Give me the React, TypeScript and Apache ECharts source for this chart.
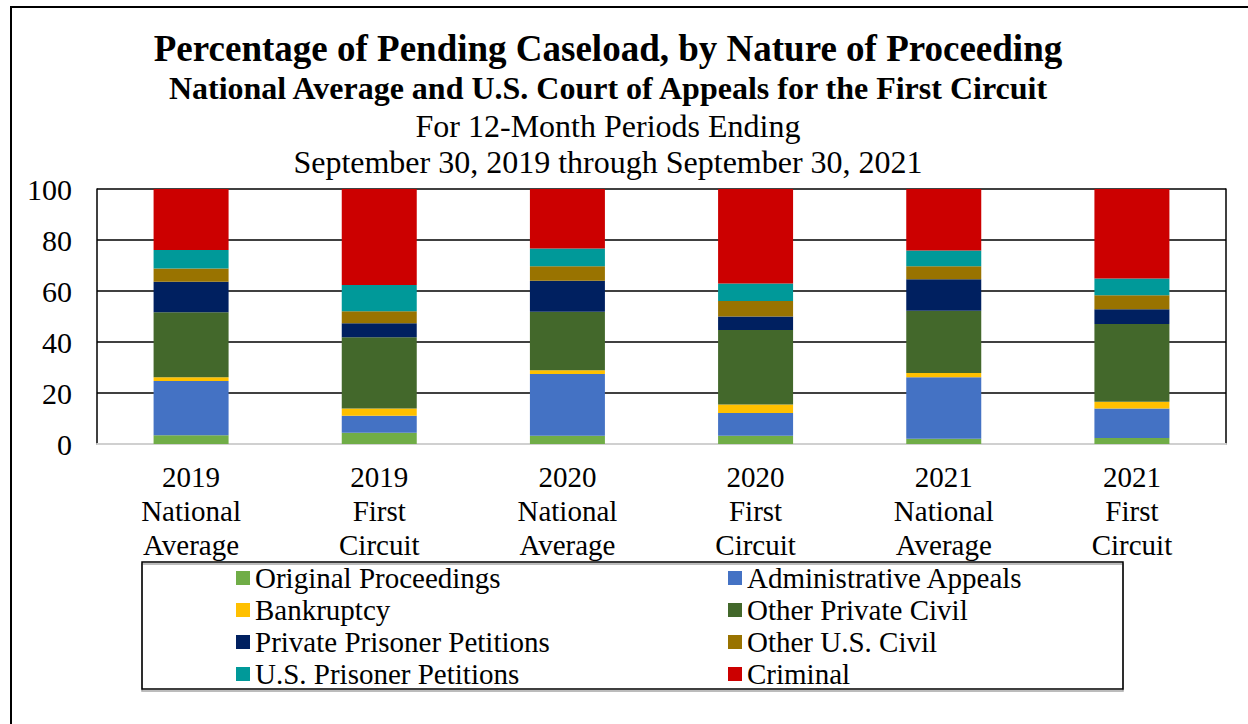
import React, { useEffect, useRef } from "react";
import * as echarts from "echarts";

const categories = [
  "2019\nNational\nAverage",
  "2019\nFirst\nCircuit",
  "2020\nNational\nAverage",
  "2020\nFirst\nCircuit",
  "2021\nNational\nAverage",
  "2021\nFirst\nCircuit",
];

const originalProceedings = [3.4, 4.4, 3.2, 3.2, 2.1, 2.4];
const administrativeAppeals = [21.3, 6.7, 24.3, 9.0, 24.1, 11.5];
const bankruptcy = [1.5, 2.8, 1.4, 3.3, 1.6, 2.7];
const otherPrivateCivil = [25.5, 28.0, 23.0, 29.2, 24.5, 30.5];
const privatePrisonerPetitions = [11.9, 5.5, 12.1, 5.3, 12.3, 5.7];
const otherUSCivil = [5.2, 4.7, 5.7, 6.1, 5.1, 5.5];
const usPrisonerPetitions = [7.3, 10.3, 7.0, 6.8, 6.2, 6.6];
const criminal = [23.9, 37.6, 23.3, 37.1, 24.1, 35.1];

const yTicks = [0, 20, 40, 60, 80, 100];

const titleLines = [
  "Percentage of Pending Caseload, by Nature of Proceeding",
  "National Average and U.S. Court of Appeals for the First Circuit",
  "For 12-Month Periods Ending",
  "September 30, 2019 through September 30, 2021",
];

const seriesDefs = [
  { name: "Original Proceedings", data: originalProceedings, color: "#70AD47" },
  { name: "Administrative Appeals", data: administrativeAppeals, color: "#4472C4" },
  { name: "Bankruptcy", data: bankruptcy, color: "#FFC000" },
  { name: "Other Private Civil", data: otherPrivateCivil, color: "#43682B" },
  { name: "Private Prisoner Petitions", data: privatePrisonerPetitions, color: "#002060" },
  { name: "Other U.S. Civil", data: otherUSCivil, color: "#997300" },
  { name: "U.S. Prisoner Petitions", data: usPrisonerPetitions, color: "#009999" },
  { name: "Criminal", data: criminal, color: "#CC0000" },
];

const FONT = "'Liberation Serif', 'Times New Roman', serif";

export default function App() {
  const ref = useRef<HTMLDivElement>(null);

  useEffect(() => {
    if (!ref.current) return;
    const chart = echarts.init(ref.current, undefined, { renderer: "svg" });

    const legendStyle = {
      orient: "vertical" as const,
      itemWidth: 14,
      itemHeight: 14,
      itemGap: 0,
      icon: "rect",
      selectedMode: false,
      textStyle: { fontFamily: FONT, fontSize: 29, color: "#000", lineHeight: 32 },
    };

    chart.setOption({
      animation: false,
      backgroundColor: "#fff",
      grid: { left: 97, right: 22, top: 189, bottom: 280, containLabel: false },
      xAxis: {
        type: "category",
        data: categories,
        axisTick: { show: false },
        axisLine: { show: true, lineStyle: { color: "#d0d0d0", width: 2 } },
        axisLabel: {
          interval: 0,
          margin: 16,
          fontFamily: FONT,
          fontSize: 29,
          color: "#000",
          lineHeight: 34,
          verticalAlign: "top",
        },
      },
      yAxis: [
        {
          type: "value",
          min: yTicks[0],
          max: yTicks[yTicks.length - 1],
          interval: 20,
          axisLine: { show: true, lineStyle: { color: "#000", width: 1.5 } },
          axisTick: { show: false },
          splitLine: { show: true, lineStyle: { color: "#000", width: 1.5 } },
          axisLabel: { margin: 25, fontFamily: FONT, fontSize: 30, color: "#000" },
        },
        {
          type: "value",
          position: "right",
          min: 0,
          max: 100,
          interval: 20,
          axisLine: { show: true, lineStyle: { color: "#000", width: 1.5 } },
          axisTick: { show: false },
          splitLine: { show: false },
          axisLabel: { show: false },
        },
      ],
      legend: [
        {
          ...legendStyle,
          left: 231,
          top: 557,
          data: [
            "Original Proceedings",
            "Bankruptcy",
            "Private Prisoner Petitions",
            "U.S. Prisoner Petitions",
          ],
        },
        {
          ...legendStyle,
          left: 723,
          top: 557,
          data: [
            "Administrative Appeals",
            "Other Private Civil",
            "Other U.S. Civil",
            "Criminal",
          ],
        },
      ],
      graphic: [
        {
          type: "rect",
          shape: { x: 11, y: 7, width: 1400, height: 900 },
          style: { fill: "none", stroke: "#000", lineWidth: 2 },
          silent: true,
        },
        {
          type: "rect",
          shape: { x: 142, y: 562, width: 981, height: 127 },
          style: {
            fill: "none",
            stroke: "#000",
            lineWidth: 1.5,
            shadowColor: "rgba(0,0,0,0.35)",
            shadowOffsetY: 2,
            shadowBlur: 1,
          },
          silent: true,
        },
        {
          type: "text",
          style: {
            text: titleLines[0],
            x: 608,
            y: 48,
            align: "center",
            verticalAlign: "middle",
            fontFamily: FONT,
            fontWeight: "bold",
            fontSize: 37,
            fill: "#000",
          },
        },
        {
          type: "text",
          style: {
            text: titleLines[1],
            x: 608,
            y: 88,
            align: "center",
            verticalAlign: "middle",
            fontFamily: FONT,
            fontWeight: "bold",
            fontSize: 32,
            fill: "#000",
          },
        },
        {
          type: "text",
          style: {
            text: titleLines[2],
            x: 608,
            y: 126,
            align: "center",
            verticalAlign: "middle",
            fontFamily: FONT,
            fontSize: 32,
            fill: "#000",
          },
        },
        {
          type: "text",
          style: {
            text: titleLines[3],
            x: 608,
            y: 162,
            align: "center",
            verticalAlign: "middle",
            fontFamily: FONT,
            fontSize: 32,
            fill: "#000",
          },
        },
      ],
      series: seriesDefs.map((s) => ({
        name: s.name,
        type: "bar",
        stack: "total",
        barWidth: 75,
        data: s.data,
        itemStyle: { color: s.color },
        emphasis: { disabled: true },
      })),
    });

    return () => chart.dispose();
  }, []);

  return (
    <div
      ref={ref}
      style={{ position: "fixed", left: 0, top: 0, width: 1248, height: 724 }}
    />
  );
}
